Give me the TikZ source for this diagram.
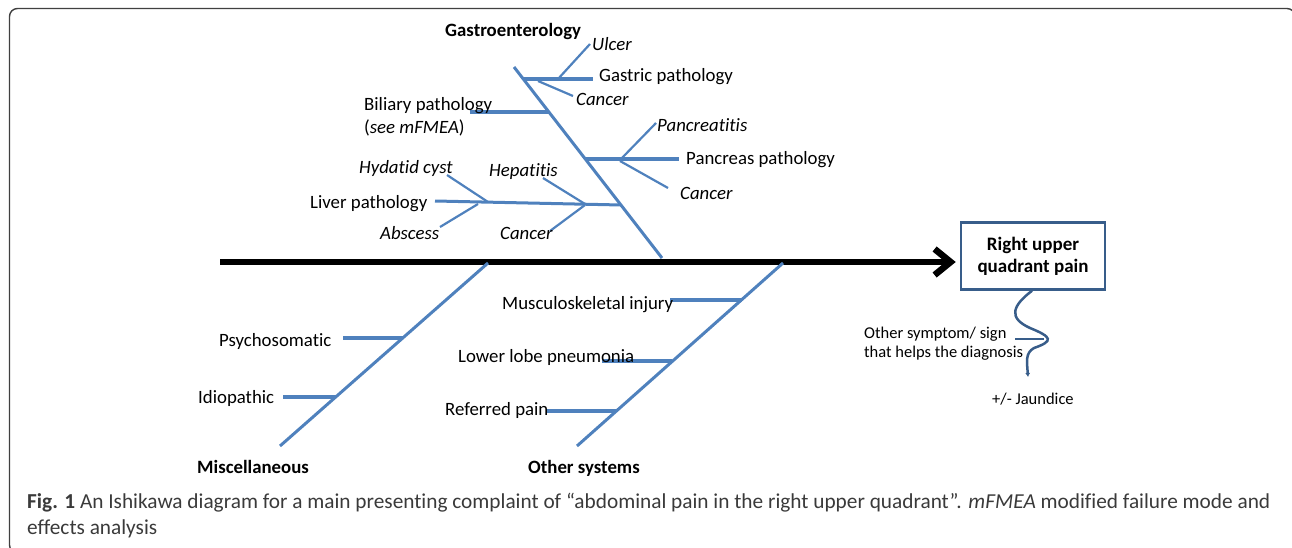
\documentclass[tikz,border=0pt]{standalone}
\usepackage{fontspec}
\setmainfont{Carlito}[RawFeature={-liga;-calt;-clig;-dlig}]
\usetikzlibrary{arrows.meta}
\definecolor{bone}{HTML}{4F81BD}
\definecolor{boxblue}{HTML}{385D8A}
\definecolor{captext}{HTML}{3A3A3A}
\definecolor{framegray}{HTML}{404040}
\begin{document}
\begin{tikzpicture}[x=1pt,y=-1pt,
  lbl/.style={anchor=base west, inner sep=0pt, font=\fontsize{18.8}{22}\selectfont},
  ilbl/.style={lbl, font=\fontsize{18.8}{22}\selectfont\itshape},
  head/.style={lbl, font=\fontsize{18.8}{22}\selectfont\bfseries},
  small/.style={anchor=base west, inner sep=0pt, font=\fontsize{16.5}{19}\selectfont},
  captionline/.style={anchor=base west, inner sep=0pt, text=captext, font=\fontsize{21.3}{26}\selectfont},
  spine/.style={line width=6.5pt, black},
  mainbone/.style={draw=bone, line width=3pt},
  subbone/.style={draw=bone, line width=4pt},
  twig/.style={draw=bone, line width=2.2pt},
]
\useasboundingbox (0,0) rectangle (1292,548);
% outer frame
\draw[framegray, line width=1.4pt, rounded corners=8pt] (9.5,8.5) rectangle (1295,553);

% effect box
\node[draw=boxblue, line width=2.5pt, fill=white, minimum width=144pt, minimum height=67pt,
      align=center, inner sep=0pt, font=\fontsize{19}{22}\selectfont\bfseries] (rupq) at (1033,256)
      {Right upper\\quadrant pain};

% spine
\coordinate (tail) at (220,262);
\draw[spine, -{Straight Barb[length=16pt,width=26pt]}, shorten >=4pt] (tail) -- (rupq.west |- tail);

% main bones
\coordinate (gTop) at (514,67);   \coordinate (gBot) at (662,258);
\coordinate (mTop) at (488,263);  \coordinate (mBot) at (280,446);
\coordinate (oTop) at (783,263);  \coordinate (oBot) at (577,446);
\draw[mainbone] (gTop) -- (gBot);
\draw[mainbone] (mTop) -- (mBot);
\draw[mainbone] (oTop) -- (oBot);

\node[head] (gastro) at (445,37) {Gastroenterology};
\node[head] (misc) at (197,473) {Miscellaneous};
\node[head] (other) at (528,473) {Other systems};

% gastric pathology
\coordinate (gaS) at (523,79); \coordinate (gaE) at (593,79);
\draw[subbone] (gaS) -- (gaE);
\coordinate (ulA) at (558,79); \coordinate (ulB) at (590,44);
\coordinate (gcA) at (538,81); \coordinate (gcB) at (573,96);
\draw[twig] (ulA) -- (ulB);
\draw[twig] (gcA) -- (gcB);
\node[ilbl] (ulcer) at (592,51) {Ulcer};
\node[lbl] (gastric) at (599,82) {Gastric pathology};
\node[ilbl] (gcancer) at (576,106) {Cancer};

% biliary pathology
\coordinate (biS) at (470,112); \coordinate (biE) at (549,112);
\draw[subbone, line width=3.5pt] (biS) -- (biE);
\node[lbl] (biliary) at (364,111) {Biliary pathology};
\node[lbl] (bilnote) at (364,134) {(\textit{see mFMEA})};

% pancreas pathology
\coordinate (paS) at (585,159); \coordinate (paE) at (679,159);
\draw[subbone] (paS) -- (paE);
\coordinate (ptA) at (620,160); \coordinate (ptB) at (656,123);
\coordinate (pcA) at (620,161); \coordinate (pcB) at (668,188);
\draw[twig] (ptA) -- (ptB);
\draw[twig] (pcA) -- (pcB);
\node[ilbl] (pancreatitis) at (657,132) {Pancreatitis};
\node[lbl] (pancreas) at (686,165) {Pancreas pathology};
\node[ilbl] (pcancer) at (680,200) {Cancer};

% liver pathology
\coordinate (liS) at (435,201); \coordinate (liE) at (621,205);
\draw[subbone, line width=3pt] (liS) -- (liE);
\coordinate (hyA) at (447,175); \coordinate (hyB) at (488,202);
\coordinate (abA) at (478,204); \coordinate (abB) at (440,227);
\coordinate (heA) at (543,178); \coordinate (heB) at (585,204);
\coordinate (lcA) at (585,205); \coordinate (lcB) at (550,231);
\draw[twig] (hyA) -- (hyB);
\draw[twig] (abA) -- (abB);
\draw[twig] (heA) -- (heB);
\draw[twig] (lcA) -- (lcB);
\node[ilbl] (hydatid) at (359,174) {Hydatid cyst};
\node[lbl] (liver) at (310,208) {Liver pathology};
\node[ilbl] (abscess) at (380,239) {Abscess};
\node[ilbl] (hepatitis) at (489,177) {Hepatitis};
\node[ilbl] (lcancer) at (500,239) {Cancer};

% miscellaneous
\coordinate (psS) at (343,338); \coordinate (psE) at (403,338);
\coordinate (idS) at (283,397); \coordinate (idE) at (336,397);
\draw[subbone, line width=3.5pt] (psS) -- (psE);
\draw[subbone, line width=3.5pt] (idS) -- (idE);
\node[lbl] (psycho) at (219,346) {Psychosomatic};
\node[lbl] (idio) at (198,403) {Idiopathic};

% other systems
\coordinate (muS) at (670,300); \coordinate (muE) at (742,300);
\coordinate (loS) at (602,361); \coordinate (loE) at (672,361);
\coordinate (reS) at (547,411); \coordinate (reE) at (616,411);
\draw[subbone, line width=3.5pt] (muS) -- (muE);
\draw[subbone, line width=3.5pt] (loS) -- (loE);
\draw[subbone, line width=3.5pt] (reS) -- (reE);
\node[lbl] (musculo) at (502,309) {Musculoskeletal injury};
\node[lbl] (lowerlobe) at (458,362) {Lower lobe pneumonia};
\node[lbl] (referred) at (445,415) {Referred pain};

% additional sign
\coordinate (wEnd) at (1028,377);
\draw[boxblue, line width=2.5pt, -{Latex[length=4pt,width=5pt]}]
  (rupq.south -| 1032,0) .. controls (1012,306) and (1008,318) .. (1030,328)
  .. controls (1052,337) and (1054,341) .. (1034,348)
  .. controls (1025,353) and (1027,362) .. (wEnd);
\coordinate (ptS) at (1015,339); \coordinate (ptE) at (1044,339);
\draw[boxblue, line width=2pt] (ptS) -- (ptE);
\node[small] (sign1) at (864,338) {Other symptom/ sign};
\node[small] (sign2) at (864,357) {that helps the diagnosis};
\node[small] (jaundice) at (992,404) {+/- Jaundice};

% caption
\node[captionline] (cap1) at (27,508)
  {\textbf{Fig. 1} An Ishikawa diagram for a main presenting complaint of “abdominal pain in the right upper quadrant”. \textit{mFMEA} modified failure mode and};
\node[captionline] (cap2) at (27,534) {effects analysis};
\end{tikzpicture}
\end{document}
